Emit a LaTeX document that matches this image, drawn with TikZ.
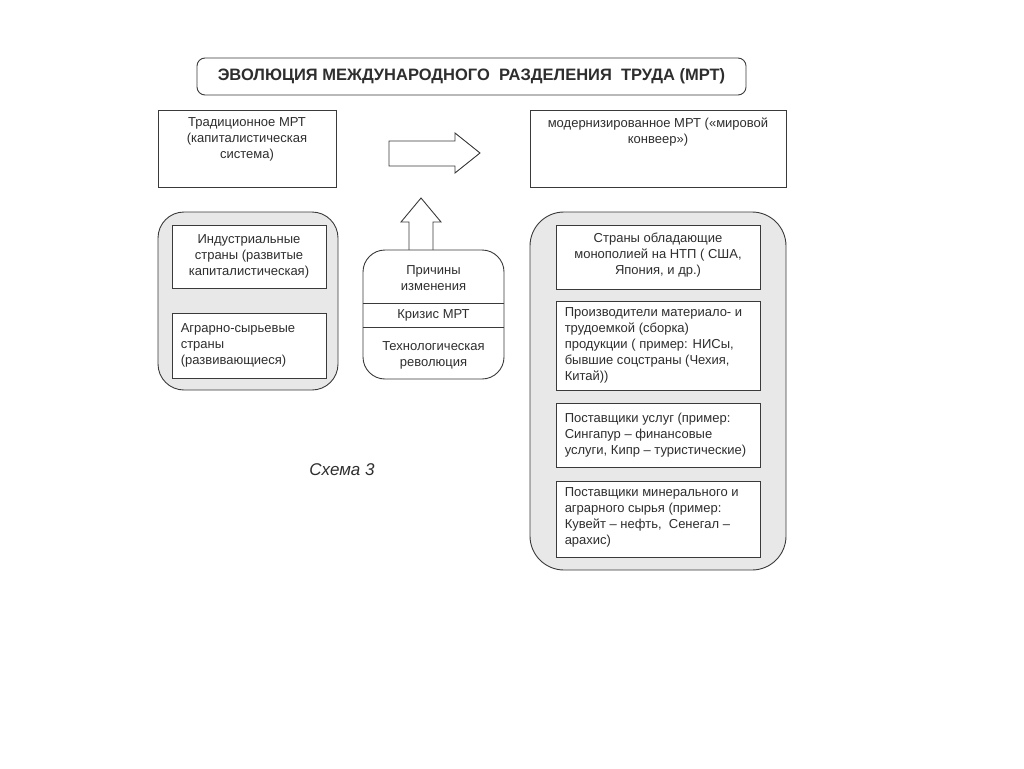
\documentclass[tikz,border=0pt]{standalone}
\usepackage{fontspec}
\setmainfont{Liberation Sans}
\definecolor{mrtLine}{HTML}{3A3A3A}
\definecolor{mrtFill}{HTML}{E8E8E8}
\definecolor{mrtText}{HTML}{2E2E2E}
\usetikzlibrary{positioning, calc}

\begin{document}
\begin{tikzpicture}[x=1pt, y=-1pt,
  box/.style={draw=mrtLine, line width=0.9pt, fill=white, inner sep=0pt},
  holder/.style={draw=mrtLine, line width=0.9pt, fill=mrtFill, inner sep=0pt},
  txt/.style={font=\fontsize{13}{16}\selectfont, text=mrtText, align=center, inner sep=0pt},
  ltxt/.style={txt, align=left},
  blockarrow/.style={draw=mrtLine, line width=0.9pt, fill=white, line join=miter}]
  \useasboundingbox (0,0) rectangle (1024,768);
  % title
  \node[box, rounded corners=8pt, minimum width=549pt, minimum height=37pt,
    font=\bfseries\fontsize{16.5}{18}\selectfont, text=mrtText] (title) at (471.5,76.5)
    {ЭВОЛЮЦИЯ МЕЖДУНАРОДНОГО \ РАЗДЕЛЕНИЯ \ ТРУДА (МРТ)};
  % upper boxes
  \node[box, minimum width=178pt, minimum height=77pt] (trad) at (247,148.5) {};
  \node[txt, below=8pt of trad.north] (tradtxt) {Традиционное МРТ\\(капиталистическая\\система)};
  \node[box, minimum width=256pt, minimum height=77pt] (modern) at (658,148.5) {};
  \node[txt, below=8pt of modern.north] (moderntxt) {модернизированное МРТ («мировой\\конвеер»)};
  \draw[blockarrow] (389,141) -- (455,141) -- (455,133) -- (480,153)
    -- (455,173) -- (455,166) -- (389,166) -- cycle;
  % left group
  \node[holder, rounded corners=26pt, minimum width=180pt, minimum height=178pt] (lefthold) at (248,301) {};
  \node[box, minimum width=154pt, minimum height=63pt] (ind) at (249,256.5) {};
  \node[txt] at (ind) {Индустриальные\\страны (развитые\\капиталистическая)};
  \node[box, minimum width=154pt, minimum height=65pt] (agr) at (249,345.5) {};
  \node[ltxt, right=9pt of agr.west] {Аграрно-сырьевые\\страны\\(развивающиеся)};
  % causes
  \draw[blockarrow] (409,252) -- (409,222) -- (401,222) -- (421,198)
    -- (441,222) -- (433,222) -- (433,252) -- cycle;
  \node[box, rounded corners=22pt, minimum width=141pt, minimum height=129pt] (causes) at (433.5,314.5) {};
  \draw[mrtLine, line width=0.9pt] (causes.west |- 0,303) -- (causes.east |- 0,303);
  \draw[mrtLine, line width=0.9pt] (causes.west |- 0,327) -- (causes.east |- 0,327);
  \node[txt] at (433.5,278) {Причины\\изменения};
  \node[txt] at (433.5,315.5) {Кризис МРТ};
  \node[txt] at (433.5,355) {Технологическая\\революция};
  % right group
  \node[holder, rounded corners=34pt, minimum width=256pt, minimum height=358pt] (righthold) at (658,391) {};
  \node[box, minimum width=204pt, minimum height=64pt] (mono) at (658,257) {};
  \node[txt] at (658,255) {Страны обладающие\\монополией на НТП ( США,\\Япония, и др.)};
  \node[box, minimum width=204pt, minimum height=89pt] (prod) at (658,345.5) {};
  \node[ltxt, right=9pt of prod.west] {Производители материало- и\\трудоемкой (сборка)\\продукции ( пример: НИСы,\\бывшие соцстраны (Чехия,\\Китай))};
  \node[box, minimum width=204pt, minimum height=64pt] (serv) at (658,435) {};
  \node[ltxt, right=9pt of serv.west] {Поставщики услуг (пример:\\Сингапур – финансовые\\услуги, Кипр – туристические)};
  \node[box, minimum width=204pt, minimum height=76pt] (raw) at (658,519) {};
  \node[ltxt, right=9pt of raw.west, yshift=2pt] {Поставщики минерального и\\аграрного сырья (пример:\\Кувейт – нефть, \ Сенегал –\\арахис)};
  % caption
  \node[font=\itshape\fontsize{17}{20}\selectfont, text=mrtText] (caption) at (342,470) {Схема 3};
\end{tikzpicture}
\end{document}
